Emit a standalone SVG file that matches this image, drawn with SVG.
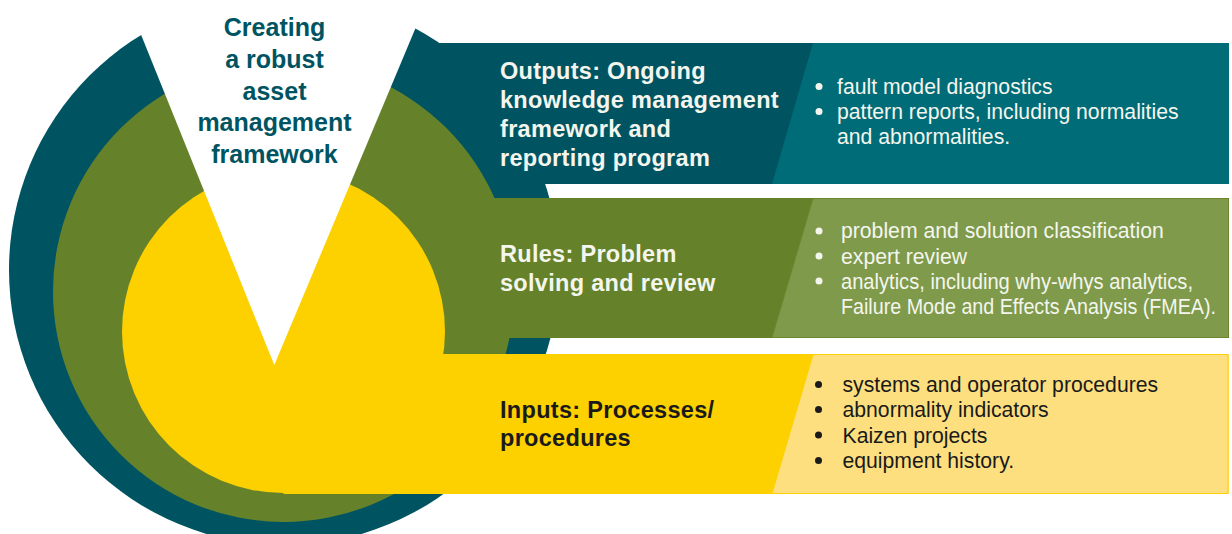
<svg xmlns="http://www.w3.org/2000/svg" width="1232" height="534" viewBox="0 0 1232 534">
  <style>
    .title { font-family: "Liberation Sans", Arial, sans-serif; font-weight: bold; font-size: 25px; fill: #005462; text-anchor: middle; }
    .head { font-family: "Liberation Sans", Arial, sans-serif; font-weight: bold; font-size: 23.5px; letter-spacing: 0.3px; }
    .item { font-family: "Liberation Sans", Arial, sans-serif; font-size: 21.2px; }
    .light { fill: #F4F6EE; }
    .dark { fill: #1A1A1A; }
  </style>
  <rect width="1232" height="534" fill="#FFFFFF"/>

  <g id="rings">
    <circle id="ring-outer" cx="284" cy="270" r="275" fill="#005462"/>
  </g>

  <g id="outputs">
    <rect x="430" y="43" width="799" height="141" fill="#005462"/>
    <polygon points="813,43 1229,43 1229,184 772,184" fill="#006C78"/>
  </g>

  <g id="ring-middle-g">
    <circle id="ring-middle" cx="283.6" cy="291.4" r="230.6" fill="#65822A"/>
  </g>

  <g id="rules">
    <rect x="470" y="198" width="759" height="140" fill="#65822A"/>
    <polygon points="813,198.5 1228.5,198.5 1228.5,337.5 772,337.5" fill="#7F9A4B" stroke="#6A8730" stroke-width="1"/>
  </g>

  <g id="ring-inner-g">
    <circle id="ring-inner" cx="283.5" cy="331.5" r="161.5" fill="#FDD000"/>
  </g>

  <g id="inputs">
    <rect x="283.5" y="354" width="945" height="140" fill="#FDD000"/>
    <polygon points="813,354.5 1228,354.5 1228,493.5 772,493.5" fill="#FDDF80" stroke="#FDD000" stroke-width="1"/>
  </g>

  <g id="title">
    <polygon points="123,-10 431.5,-10 274.3,365" fill="#FFFFFF"/>
    <text class="title" x="274.5" y="36">Creating</text>
    <text class="title" x="274.5" y="68">a robust</text>
    <text class="title" x="274.5" y="99.5">asset</text>
    <text class="title" x="274.5" y="131">management</text>
    <text class="title" x="274.5" y="163">framework</text>
  </g>

  <g id="outputs-text">
    <text class="head light" x="500" y="79">Outputs: Ongoing</text>
    <text class="head light" x="500" y="108">knowledge management</text>
    <text class="head light" x="500" y="137">framework and</text>
    <text class="head light" x="500" y="166">reporting program</text>
    <circle cx="819" cy="86.5" r="3.5" fill="#F4F6EE"/>
    <circle cx="819" cy="111.5" r="3.5" fill="#F4F6EE"/>
    <text class="item light" x="837" y="93.5">fault model diagnostics</text>
    <text class="item light" x="837" y="118.5">pattern reports, including normalities</text>
    <text class="item light" x="837" y="143.5">and abnormalities.</text>
  </g>

  <g id="rules-text">
    <text class="head light" x="500" y="262">Rules: Problem</text>
    <text class="head light" x="500" y="291">solving and review</text>
    <circle cx="819" cy="231" r="3.5" fill="#F4F6EE"/>
    <circle cx="819" cy="256" r="3.5" fill="#F4F6EE"/>
    <circle cx="819" cy="281" r="3.5" fill="#F4F6EE"/>
    <text class="item light" x="841" y="238.3">problem and solution classification</text>
    <text class="item light" x="841" y="263.5">expert review</text>
    <text class="item light" x="841" y="288.6" textLength="352" lengthAdjust="spacingAndGlyphs">analytics, including why-whys analytics,</text>
    <text class="item light" x="841" y="314" textLength="375" lengthAdjust="spacingAndGlyphs">Failure Mode and Effects Analysis (FMEA).</text>
  </g>

  <g id="inputs-text">
    <text class="head dark" x="500" y="418">Inputs: Processes/</text>
    <text class="head dark" x="500" y="446">procedures</text>
    <circle cx="818.5" cy="384.5" r="3.5" fill="#1A1A1A"/>
    <circle cx="818.5" cy="409.5" r="3.5" fill="#1A1A1A"/>
    <circle cx="818.5" cy="435" r="3.5" fill="#1A1A1A"/>
    <circle cx="818.5" cy="460.5" r="3.5" fill="#1A1A1A"/>
    <text class="item dark" x="842.5" y="392.3">systems and operator procedures</text>
    <text class="item dark" x="842.5" y="417.3">abnormality indicators</text>
    <text class="item dark" x="842.5" y="442.7">Kaizen projects</text>
    <text class="item dark" x="842.5" y="468.3">equipment history.</text>
  </g>

  <g id="connectors"/>
</svg>
